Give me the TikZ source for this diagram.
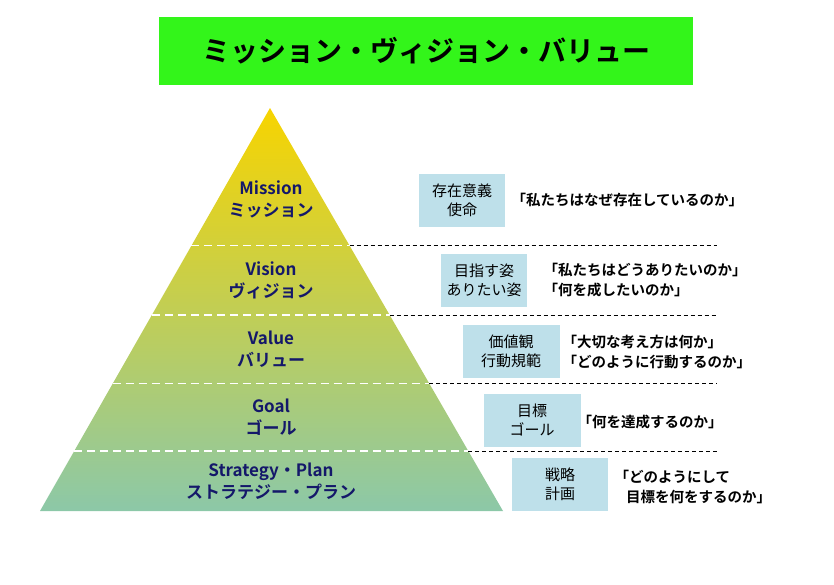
\documentclass[tikz,border=0pt]{standalone}
\usepackage{fontspec}
\setmainfont{Noto Sans CJK JP}
\newfontfamily\jpbold{Noto Sans CJK JP Bold}
\usepackage{xcolor}
\usetikzlibrary{calc}
\definecolor{titlegreen}{HTML}{33F51A}
\definecolor{pyrtop}{HTML}{F7D400}
\definecolor{pyrmid}{HTML}{CCD66A}
\definecolor{pyrbot}{HTML}{8CC8A8}
\definecolor{boxblue}{HTML}{BEE0EA}
\definecolor{navy}{HTML}{14186A}
\begin{document}
\begin{tikzpicture}[x=1pt, y=-1pt,
  lvl/.style={align=center, font=\jpbold\fontsize{17}{22}\selectfont, text=navy},
  kw/.style={fill=boxblue, align=center, font=\fontsize{15}{19}\selectfont, minimum width=86pt, minimum height=53pt, inner sep=0pt},
  qt/.style={anchor=west, align=left, font=\jpbold\fontsize{14.5}{19.5}\selectfont},
  inline/.style={white, line width=1.3pt, dash pattern=on 8pt off 5pt},
  outline/.style={black, line width=0.6pt, dash pattern=on 4pt off 3pt}]
\useasboundingbox (0,0) rectangle (834,584);
% title
\node[fill=titlegreen, minimum width=534pt, minimum height=68pt, font=\jpbold\fontsize{28}{32}\selectfont] (title) at (426,51) {ミッション・ヴィジョン・バリュー};
% pyramid
\coordinate (apex) at (270,108);
\coordinate (bl) at (40,511);
\coordinate (br) at (503,511);
\shade[top color=pyrtop, middle color=pyrmid, bottom color=pyrbot] (apex) -- (br) -- (bl) -- cycle;
\foreach \t/\n in {0.3417/a, 0.5136/b, 0.6841/c, 0.8511/d} {
  \coordinate (L\n) at ($(apex)!\t!(bl)$);
  \coordinate (R\n) at ($(apex)!\t!(br)$);
  \draw[inline] (L\n) -- (R\n);
  \draw[outline] (R\n) -- (R\n -| 717,0);
}
% levels
\node[lvl] (mission) at (271,199) {Mission\\ミッション};
\node[lvl] (vision) at (271,280) {Vision\\ヴィジョン};
\node[lvl] (value) at (271,349) {Value\\バリュー};
\node[lvl] (goal) at (271,417) {Goal\\ゴール};
\node[lvl] (plan) at (271,481) {Strategy・Plan\\ストラテジー・プラン};
% keywords
\node[kw] (k1) at (462,200) {存在意義\\使命};
\node[kw] (k2) at (484,280) {目指す姿\\ありたい姿};
\node[kw, minimum width=97pt] (k3) at (511,351) {価値観\\行動規範};
\node[kw, minimum width=97pt] (k4) at (532,420) {目標\\ゴール};
\node[kw, minimum width=96pt] (k5) at (560,484) {戦略\\計画};
% questions
\node[qt] (q1) at (508,200) {「私たちはなぜ存在しているのか」};
\node[qt] (q2) at (540,280) {「私たちはどうありたいのか」\\「何を成したいのか」};
\node[qt] (q3) at (559,352) {「大切な考え方は何か」\\「どのように行動するのか」};
\node[qt] (q4) at (574,422) {「何を達成するのか」};
\node[qt] (q5) at (611,487) {「どのようにして\\\hspace*{0.8em}目標を何をするのか」};
\end{tikzpicture}
\end{document}
